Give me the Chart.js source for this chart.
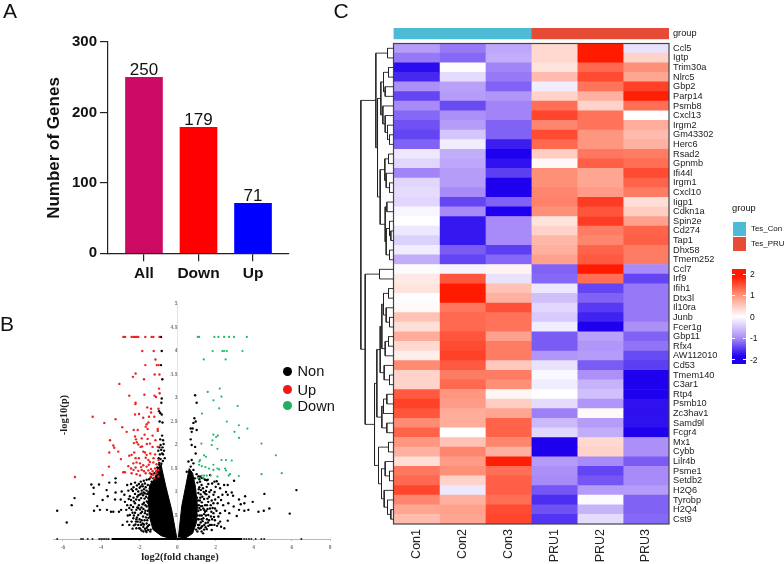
<!DOCTYPE html>
<html><head><meta charset="utf-8">
<script src="https://cdn.jsdelivr.net/npm/chart.js@4"></script>
<style>
html,body{margin:0;padding:0;background:#fff;width:784px;height:564px;overflow:hidden;font-family:"Liberation Sans",Arial,sans-serif}
canvas{position:absolute;left:0;top:0}
.t{position:absolute;white-space:nowrap;color:#111;transform:translate(-50%,-50%);line-height:1}
.l{position:absolute;white-space:nowrap;color:#111;transform:translateY(-50%);line-height:1}
.b{position:absolute}
#cv{filter:blur(.45px)}
</style></head><body>
<canvas id="cv" width="784" height="564"></canvas>
<canvas id="cb" width="784" height="564"></canvas>
<canvas id="ca" width="784" height="564"></canvas>
<canvas id="ch" width="784" height="564"></canvas>
<canvas id="cd" width="784" height="564"></canvas>
<script>
// ---- Panel A
const barCats=['All','Down','Up'];
const barVals=[250,179,71];
const barCols=['#CC0A64','#FF0000','#0000FF'];
// ---- Panel B (log2FC, -log10 p)
const upPts=[[-2.83,4.3],[-2.74,4.3],[-2.4,4.3],[-2.3,4.3],[-2.22,4.3],[-2.13,4.3],[-2.05,4.3],[-1.68,4.3],[-1.35,4.3],[-1.26,4.3],[-.94,4.3],[-1.84,4],[-1.24,4],[-1.15,3.82],[-1.68,3.7],[-1.08,3.7],[-.98,3.7],[-2.19,3.52],[-1.19,3.5],[-.94,3.5],[-2.33,3.45],[-1.75,3.4],[-3.04,3.3],[-.96,3.2],[-.93,3.1],[-2.52,3.05],[-1.73,3.07],[-1.2,3.05],[-1.12,3.02],[-2.19,2.9],[-2.2,2.87],
[-1.58,2.8],[-1.38,2.77],[-.99,2.77],[-1.38,2.69],[-2.22,2.65],[-2.01,2.66],[-1.79,2.58],[-1.49,2.6],[-1.21,2.6],[-4.44,2.6],[-3.24,2.55],[-3.83,2.47],[-1.52,2.48],[-1.61,2.44],[-1.66,2.39],[-1.56,2.34],[-2.89,2.38],[-2.29,2.32],[-2.08,2.32],[-2.66,2.28],[-1.03,2.34],[-1.03,2.3],[-1.3,2.2],[-2.22,2.18],[-1.87,2.14],[-2.17,2.12],[-1.56,2.13],[-3.53,2.1],[-2.13,2.06],[-2.05,2.01],[-1.44,2.03],[-3.36,1.99],[-3.31,1.94],[-1.93,1.96],[-1.3,1.96],[-1.03,1.96],[-3.1,1.86],[-3.57,1.84],[-1.79,1.86],[-1.7,1.84],[-2.26,1.84],[-2.52,1.77],[-2.4,1.79],[-1.61,1.79],[-2.19,1.72],[-1.66,1.73],[-1.52,1.68],[-1.17,1.8],[-.99,1.68],[-2.96,1.7],[-2.31,1.61],[-2.14,1.63],[-1.96,1.61],[-1.79,1.57],[-1.44,1.64],[-1.26,1.63],[-1.09,1.59],[-2.57,1.55],[-2.43,1.5],[-2.19,1.52],[-1.87,1.47],[-1.61,1.54],[-1.38,1.49],[-1.17,1.5],[-.99,1.47],[-3.59,1.54],[-2.84,1.42],[-2.75,1.42],[-2.4,1.4],[-2.14,1.38],[-1.96,1.35],[-1.66,1.4],[-1.44,1.4],[-1.26,1.36],[-1.09,1.4],[-3.92,1.36],[-1.21,1.3],[-1.38,1.33],[-.99,1.33],[-5.37,1.32],[-2.3,1.47],[-2.05,1.45],[-1.75,1.44],[-1.52,1.46],[-1.3,1.44],[-1.12,1.44],[-1.9,1.53],[-1.5,1.58],[-2.02,1.72],[-1.25,1.72],[-1.42,1.82],[-1.85,1.97],[-1.6,2.02],[-1.15,2.1],[-1.72,2.22],[-2.28,2.04]];
const downPts=[[1.07,4.3],[1.14,4.3],[1.94,4.3],[2.15,4.3],[2.45,4.3],[2.71,4.3],[2.97,4.3],[3.64,4.3],[1.85,4],[2.36,4],[2.45,4],[2.59,4],[3.41,4],[1.38,3.82],[2.53,3.82],[1.59,3.13],[2.22,3.2],[2.31,3.03],[1.89,2.95],[3.16,2.83],[2.19,2.78],[1.29,2.67],[2.59,2.5],[3.22,2.42],[3.67,2.35],[2.99,2.28],[1.89,2.22],[2.12,2.2],[2.03,2.17],[3.23,2.15],[1.84,2.1],[4.41,2.03],[1.26,2.03],[1.8,2],[2.1,1.92],[5.16,1.78],[1.4,1.78],[1.5,1.75],[1.19,1.68],[2.31,1.68],[2.55,1.68],[2.85,1.67],[1.15,1.65],[1.14,1.58],[1.89,1.58],[1.28,1.55],[1.47,1.53],[1.66,1.5],[1.89,1.47],[2.1,1.5],[2.19,1.48],[2.5,1.5],[2.55,1.46],[5.47,1.4],[4.41,1.38],[2.76,1.38],[1.28,1.35],[1.4,1.35],[1.54,1.35],[1.75,1.35],[2.1,1.33],[2.69,1.35],[3.22,1.34],[1.07,1.3],[1.35,1.3]];
const nonPts=[[-.86,4.3],[-.82,4],[-.86,3.7],[-.79,3.4],[-.82,2.99],[-.84,2.9],[-.96,2.72],[-.9,2.68],[-.82,2.65],[-.93,2.5],[-.78,2.48],[-.8,2.2],[-.9,2.12],[-.75,2.1],[-.72,2.02],[-.88,2],[-.95,1.95],[-.78,1.95],[-1,1.88],[-.85,1.9],[-.7,1.88],[-.8,1.82],[-.92,1.8],[-.75,1.8],[-.98,1.72],[-.66,1.72],[-.88,1.7],[-.76,1.66],[-.95,1.62],[-.84,1.6],
[.93,3.06],[1.01,2.9],[.89,2.57],[.96,2.5],[.84,2.47],[.7,2.35],[.8,2.35],[.75,2.28],[1.01,2.32],[.7,2.12],[.75,2],[.93,1.96],[.96,1.82],[.75,1.68],[.58,1.65],[.84,1.61],[.7,1.54],[.84,1.47],[.49,1.43],[.66,1.4],[1.01,1.38],[1.19,1.33],[1.36,1.29],[1.54,1.25],[2.06,1.23],
[-6.3,.6],[-5.8,.35],[-5.54,.72],[-5.39,.87],[-4.51,1.16],[-4.39,1.09],[-4.11,1.16],[-4.39,.96],[-4.37,.6],[-4.2,.7],[-4.06,.62],[-3.92,.83],[-3.71,1.04],[-3.65,.91],[-3.57,1.2],[-3.24,1.29],[-3.24,1.2],[-3.24,.99],[-3.27,.84],[-3.69,.62],[-3.48,.58],[-3.36,.58],[-3.06,.58],[-2.95,.62],[-2.87,.3],
[-2.63,1.15],[-2.43,1.17],[-2.22,1.2],[-1.92,1.22],[-1.92,1.12],[-1.7,1.18],[-1.61,1.26],[-2.92,1.01],[-2.78,.94],[-2.57,1.03],[-2.4,1.06],[-2.49,.91],[-2.22,.96],[-2.05,1.01],[-1.87,1.03],[-1.7,.97],[-2.97,.84],[-2.75,.79],[-2.63,.72],[-2.43,.83],[-2.22,.76],[-2,.83],[-1.82,.74],[-2.1,.67],[-1.96,.63],[-2.4,.62],[-2.22,.56],[-2.05,.51],[-2.49,.51],[-2.31,.44],[-2.17,.37],[-2.4,.37],[-2.05,.3],[-2.63,.37],[-1.87,.4],[-1.79,.26],[-2,.23],[-1.61,.33],[-1.53,.19],[-1.7,.55],[-1.61,.69],[-1.53,.87],[-1.44,1.08],[-1.35,1.22],[-1.26,1.29],[-1.12,1.33],
[-2.3,1.1],[-2.12,1.14],[-2.02,1.17],[-1.81,1.12],[-1.75,1.06],[-1.95,.95],[-1.8,.93],[-1.62,1.03],[-1.55,1.15],[-1.48,1.27],[-1.4,1.31],[-1.72,.86],[-1.6,.8],[-1.9,.87],[-2.1,.9],[-2.3,.88],[-2.55,.85],[-2.68,.62],[-2.32,.68],[-2.02,.72],[-1.92,.55],[-1.78,.64],[-1.68,.72],[-1.55,.6],[-1.52,.45],[-1.65,.46],[-1.8,.48],[-1.98,.42],[-2.12,.46],[-2.28,.29],[-2.15,.23],[-1.9,.3],[-1.7,.22],[-1.62,.15],[-1.42,.16],[-1.88,.18],[-1.58,.96],[-1.5,.72],[-1.52,1.0],[-1.46,.95],[-1.45,.62],[-1.48,.3],[-1.4,.2],[-1.35,1.38],[-1.2,1.4],[-1.05,1.52],[-.95,1.58],
[-2.33,1.02],[-2.15,1.06],[-1.98,1.09],[-1.84,1.16],[-1.66,1.1],[-1.76,1.24],[-2.28,.8],[-2.16,.84],[-2.04,.93],[-1.88,.97],[-1.77,.99],[-1.64,.9],[-1.54,.77],[-2.52,.66],[-2.44,.72],[-2.15,.62],[-2.05,.66],[-1.88,.67],[-1.75,.77],[-1.58,.52],[-1.72,.4],[-1.85,.58],[-2.28,.5],[-2.15,.42],[-2.35,.56],[-1.94,.36],[-1.82,.33],[-1.68,.6],[-1.58,.4],[-1.55,.27],[-1.75,.31],[-2.08,.37],[-2.2,.31],[-1.95,.22],[-1.78,.16],[-1.6,.24],[-1.66,.18],[-2.35,.22],[-2.52,.3],[-2.6,.5],
[6.24,1.04],[5.89,.54],[4.56,.96],[4.82,.65],[4.53,.6],[4.25,.58],[3.95,.79],[3.55,.91],[3.51,.76],[3.32,.74],[3.23,.84],[2.97,1.24],[2.85,.99],[2.95,.69],[3.23,.62],[3.51,.6],[3.72,.62],[3.11,.49],[2.64,.39],[2.64,1.15],[2.45,1.15],[2.24,1.08],[2.64,.94],[2.36,.94],[2.67,.76],[2.5,.6],[2.24,.55],[2.15,.48],[2.24,.37],[2.46,.23],[1.94,1.22],[1.59,1.26],
[1.71,1.36],[1.45,1.26],[1.27,1.15],[1.54,1.11],[1.76,1.04],[2.01,1.11],[1.45,.97],[1.66,.9],[1.89,.94],[2.15,.89],[2.29,.83],[1.62,.79],[1.89,.76],[2.11,.76],[1.45,.72],[1.71,.65],[1.97,.65],[1.45,.58],[1.62,.51],[1.89,.55],[1.36,.44],[1.66,.4],[1.97,.4],[1.41,.3],[1.71,.3],[1.94,.3],[2.15,.33],[1.54,.21],[1.8,.19],[2.29,.26],[1.27,.16],[1.36,.65],[1.31,.9],[1.24,1.04],[1.19,1.22],[.92,1.29],[1.1,1.33],[.75,1.36],
[1.05,1.2],[1.15,1.1],[1.22,.95],[1.1,.98],[1.18,.82],[1.28,.78],[1.12,.72],[1.22,.62],[1.1,.6],[1.18,.5],[1.28,.5],[1.12,.42],[1.22,.35],[1.08,.3],[1.16,.22],[1.3,.27],[1.4,.85],[1.38,1.0],[1.52,.95],[1.55,.72],[1.52,.6],[1.55,.42],[1.48,.34],[1.62,.28],[1.82,.42],[1.78,.58],[1.8,.82],[1.95,1.0],[1.98,.84],[2.05,.6],[2.08,.28],[1.35,.12],[1.05,.16],[1.62,1.17],[1.82,1.18],[2.15,1.17],[2.55,1.0],[2.4,.72],[2.72,.55],[2.92,.92],[1.24,.7],[1.03,.88],[1.06,.5],[.98,.2],
[1.12,1.06],[1.2,.88],[1.08,.82],[1.3,.7],[1.15,.66],[1.08,.42],[1.26,.42],[1.15,.3],[1.32,.38],[1.24,.24],[1.1,.24],[1.4,.53],[1.5,.5],[1.58,.64],[1.4,.62],[1.34,1.08],[1.5,1.02],[1.68,1.0],[1.58,.86],[1.75,.72],[1.85,.66],[1.92,.47],[1.76,.48],[1.4,.2],[1.48,.25],[1.6,.35],[1.8,.3],[1.15,1.27],[1.28,1.3]];
const baseXs=[-6.3,-5.05,-4.95,-4.7,-4.45,-4.1,-4,-3.9,-3.8,-3.7,-3.6,3.5,3.62,3.75,3.88,4.1,4.4,4.55,6.5];
const denseBand=[[-3.45,0],[3.4,0]];
const denseLeft=[[-.03,.02],[-.3,.62],[-.6,1.11],[-.8,1.47],[-.85,1.58],[-1.05,1.5],[-1.15,1.3],[-1.45,1.15],[-1.52,.85],[-1.48,.5],[-1.28,.2],[-.85,.07],[-.3,0]];
const denseRight=[[.05,.03],[.23,.7],[.45,1.15],[.57,1.4],[.62,1.5],[.8,1.4],[.95,1.1],[1.05,.7],[1,.35],[.8,.12],[.4,.01]];
const volcXTicks=[-6,-4,-2,0,2,4,6,8];
// ---- Panel C
const heatCols=['Con1','Con2','Con3','PRU1','PRU2','PRU3'];
const genes=['Ccl5','Igtp','Trim30a','Nlrc5','Gbp2','Parp14','Psmb8','Cxcl13','Irgm2','Gm43302','Herc6','Rsad2','Gpnmb','Ifi44l','Irgm1','Cxcl10','Iigp1','Cdkn1a','Spin2e','Cd274','Tap1','Dhx58','Tmem252','Ccl7','Irf9','Ifih1','Dtx3l','Il10ra','Junb','Fcer1g','Gbp11','Rfx4','AW112010','Cd53','Tmem140','C3ar1','Rtp4','Psmb10','Zc3hav1','Samd9l','Fcgr4','Mx1','Cybb','Lilr4b','Psme1','Setdb2','H2Q6','Tyrobp','H2Q4','Cst9'];
const heat=[[-.85,-1.15,-.75,.35,2.2,-.25],[-1.15,-1.3,-.7,.35,2.2,.4],[-2.1,.02,-1.05,.25,1.4,1],[-1.85,-.3,-1.15,.6,1.7,.8],[-.95,-.8,-1.35,-.15,1.3,1.8],[-1.6,-.85,-.9,.4,.7,2.15],[-1,-1.55,-1.05,1.35,.4,1.35],[-1.3,-.95,-1.05,1.75,1.3,0],[-1.5,-.85,-1.35,1.1,1.3,.75],[-1.6,-.5,-1.35,1.7,.95,.6],[-1.35,-.15,-1.95,1.4,.95,.7],[-.2,-.7,-2.2,.45,1.25,1.2],[-.35,-.75,-2.05,.07,1.5,1.35],[-1.05,-.85,-1.65,1,.8,1.7],[-.35,-.85,-2.2,1,.8,1.45],[-.3,-1,-2.2,1.1,.9,1.2],[-.35,-1.6,-1.35,1.15,1.85,.3],[-.08,-1,-2.2,1,1.6,.45],[0,-2,-1,.25,1.85,.85],[-.2,-2,-1,.4,1.2,1.45],[-.4,-2,-1,.65,1.1,1.5],[-.15,-1.4,-1.65,.7,1.45,1.2],[-.7,-1.6,-1.3,.85,1.55,1.2],
[-.03,-.1,.1,-1.35,2.2,-1],[.2,1.6,-.25,-1.3,1.35,-1.6],[.25,2.2,.55,-.2,-1.6,-1.15],[-.02,2.2,.7,-.55,-1.35,-1.15],[.05,1.25,1.65,-.35,-1.7,-1.15],[.55,1.4,1.3,-.45,-1.9,-1.15],[.3,1.4,1.3,-.15,-2.2,-.95],[.75,1.6,.85,-1.4,-.8,-1.35],[.35,1.7,1.2,-1.4,-.9,-1.2],[.15,1.8,1.2,-.9,-.85,-1.55],[1.05,1.55,.5,-.25,-1.4,-1.65],[.4,1.2,1.2,-.07,-.95,-2.2],[.4,1.4,1,-.15,-.65,-2.2],[1.55,.95,.07,0,-.55,-2.2],[1.8,.9,.45,-.3,-.9,-2.05],[1.6,.75,.8,-1.1,.05,-2.05],[1.05,.75,1.45,-.6,-.85,-2.05],[1.45,0,1.45,-.35,-.7,-2.2],[.95,.55,1.1,-2.2,.35,-.95],[.7,1.1,.7,-2.2,.4,-.95],[.3,.9,2.15,-.85,-1,-1.4],[1.25,1,1.35,-.95,-1.6,-1],[1.4,.4,1.5,-1,-1.45,-1],[1.75,-.2,1.5,-1.45,-.85,-.85],[1.1,.7,1.35,-1.8,-.03,-1.35],[.8,.85,1.7,-1.5,-.65,-1.35],[.6,.8,1.75,-1.75,-.3,-1.3]];
// dendrogram: [height, childA, childB]; numbers at leaves are row indexes
const treeTop=[53,[18,0,1],[48,[38,[30,[15,2,3],[25,4,5]],[32,6,[25,7,[18,8,[12,9,10]]]]],[40,[26,[15,11,12],[22,13,[12,14,15]]],[25,[20,16,17],[22,[12,18,[8,19,20]],[12,21,22]]]]]];
const treeBottom=[85,[42,23,24],[57,[50,[40,[35,[30,[15,25,26],[22,27,[12,28,29]]],[25,[15,30,31],32]],[28,33,[12,34,35]]],[35,[30,[20,36,37],38],[20,39,40]]],[45,[15,41,42],[36,[25,43,[12,44,45]],[28,46,[18,47,[8,48,49]]]]]]];
const treeRoot=[98,treeTop,treeBottom];
const groupSpans=[3,3];
const groupNames=['Tes_Con','Tes_PRU'];
const groupColors=['#4DBBD5','#E64B35'];
const colorStops=[[-2.2,[30,0,238]],[-1,[168,138,248]],[0,[255,255,255]],[1,[255,144,120]],[2.2,[255,26,0]]];
const colorTicks=[2,1,0,-1,-2];

const SANS='"Liberation Sans",Arial,sans-serif',SERIF='"Liberation Serif","Times New Roman",serif';
const fit=n=>s=>{if(s.isHorizontal())s.height=n;else s.width=n};
function pad(l,t,r,b){return {padding:{left:l,top:t,right:784-r,bottom:564-b}}}
const base={responsive:false,animation:false,events:[],plugins:{legend:{display:false},tooltip:{enabled:false}}};
function addText(txt,x,y,css,rot){const d=document.createElement('div');d.className='t';d.textContent=txt;d.style.cssText=`left:${x}px;top:${y}px;${css||''}`;if(rot)d.style.transform=`translate(-50%,-50%) rotate(${rot}deg)`;document.body.appendChild(d)}
function addLeft(txt,x,y,css){const d=document.createElement('div');d.className='l';d.textContent=txt;d.style.cssText=`left:${x}px;top:${y}px;${css||''}`;document.body.appendChild(d)}
function addBox(x,y,w,h,css){const d=document.createElement('div');d.className='b';d.style.cssText=`left:${x}px;top:${y}px;width:${w}px;height:${h}px;${css}`;document.body.appendChild(d)}
const pts=a=>a.map(p=>({x:p[0],y:p[1]}));

// Panel A
new Chart(document.getElementById('cb'),{type:'bar',
 data:{datasets:[{data:barVals.map((v,i)=>({x:i,y:v})),backgroundColor:barCols,barThickness:37}]},
 options:{...base,layout:pad(108-60,42,289,253.3+40),
  scales:{
   x:{type:'linear',offset:false,min:-.66,max:2.66,afterFit:fit(40),afterBuildTicks:s=>{s.ticks=barCats.map((c,i)=>({value:i}))},
      grid:{offset:false,drawOnChartArea:false,tickLength:8,color:'#222',lineWidth:1.2},border:{color:'#222',width:1.2},
      ticks:{autoSkip:false,maxRotation:0,padding:3,color:'#111',font:{family:SANS,size:15.5,weight:'bold'},callback:v=>barCats[v]}},
   y:{min:0,max:300,afterFit:fit(60),afterBuildTicks:s=>{s.ticks=[0,100,200,300].map(v=>({value:v}))},
      grid:{drawOnChartArea:false,tickLength:8,color:'#222',lineWidth:1.2},border:{color:'#222',width:1.2},
      ticks:{padding:3,color:'#111',font:{family:SANS,size:15,weight:'bold'}}}}},
 plugins:[{id:'vals',afterDatasetsDraw(c){const x=c.ctx;x.save();x.font='17px '+SANS;x.fillStyle='#111';x.textAlign='center';x.textBaseline='bottom';
   c.getDatasetMeta(0).data.forEach((b,i)=>x.fillText(barVals[i],b.x,b.y+2));x.restore()}}]});

// Panel B
const dot=(a,col,r)=>({data:pts(a),backgroundColor:col,borderWidth:0,pointRadius:r,showLine:false});
const mass=a=>({data:pts(a),showLine:true,fill:'shape',backgroundColor:'#000',borderColor:'#000',borderWidth:1,pointRadius:0,tension:0});
new Chart(document.getElementById('cv'),{type:'scatter',
 data:{datasets:[dot(upPts,'#F02020',1.2),dot(downPts,'#1FB568',1.1),dot(nonPts,'#000',1.2),dot(baseXs.map(x=>[x,0]),'#222',1),
   {data:pts(denseBand),showLine:true,borderColor:'#000',borderWidth:2,pointRadius:0},mass(denseLeft),mass(denseRight)]},
 options:{...base,layout:pad(53,304,330,539+20),clip:false,
  scales:{
   x:{type:'linear',min:-6.52,max:8,afterFit:fit(20),afterBuildTicks:s=>{s.ticks=volcXTicks.map(v=>({value:v}))},
      grid:{drawOnChartArea:false,tickLength:2,color:'#bbb'},border:{color:'#bbb',width:1},
      ticks:{padding:3,maxRotation:0,color:'#777',font:{family:SERIF,size:5.5,weight:'bold'}}},
   y:{min:0,max:5,position:{x:0},afterFit:fit(0),
      grid:{drawOnChartArea:false,tickLength:2,color:'#ccc'},border:{color:'#e4e4e4',width:1},
      ticks:{stepSize:.5,padding:2,color:'#777',font:{family:SERIF,size:5.5,weight:'bold'},callback:v=>v===0?'':String(v)}}}}});

// Panel C colours
function heatColor(v){for(let i=1;i<colorStops.length;i++){const[a,ca]=colorStops[i-1],[b,cb]=colorStops[i];if(v<=b){const t=Math.max(0,(v-a)/(b-a));return `rgb(${ca.map((c,k)=>Math.round(c+(cb[k]-c)*t)).join(',')})`}}return 'rgb(255,26,0)'}
new Chart(document.getElementById('ch'),{type:'bar',
 data:{labels:genes,datasets:heatCols.map((n,c)=>({label:n,data:genes.map(()=>1),backgroundColor:ctx=>heatColor(heat[ctx.dataIndex][c]),borderWidth:0,barPercentage:1,categoryPercentage:1,stack:'s'}))},
 options:{...base,indexAxis:'y',layout:pad(393.5,43.5,669+80,524+40),
  scales:{
   x:{type:'linear',stacked:true,offset:false,min:0,max:6,afterFit:fit(40),afterBuildTicks:s=>{s.ticks=heatCols.map((c,i)=>({value:i+.5}))},
      grid:{display:false,drawTicks:false},border:{display:false},
      ticks:{autoSkip:false,minRotation:90,maxRotation:90,padding:5,color:'#222',font:{family:SANS,size:12.5},callback:v=>heatCols[Math.floor(v)]}},
   y:{stacked:true,position:'right',afterFit:fit(80),grid:{display:false,drawTicks:false},border:{display:false},
      ticks:{autoSkip:false,padding:4,color:'#222',font:{family:SANS,size:9.2}}}}},
 plugins:[{id:'frame',afterDraw(c){const a=c.chartArea,x=c.ctx;x.save();x.strokeStyle='#444';x.lineWidth=1.2;x.strokeRect(a.left,a.top,a.right-a.left,a.bottom-a.top);x.restore()}}]});

// dendrogram built from the tree above
const segs=[];
function walk(n){if(typeof n==='number')return {y:n+.5,h:0};const[h,p,q]=n;const A=walk(p),B=walk(q);
 segs.push({x:A.h,y:A.y},{x:h,y:A.y},{x:h,y:B.y},{x:B.h,y:B.y},{x:null,y:null});return {y:(A.y+B.y)/2,h}}
walk(treeRoot);
new Chart(document.getElementById('cd'),{type:'scatter',
 data:{datasets:[{data:segs,showLine:true,spanGaps:false,borderColor:'#222',borderWidth:.9,pointRadius:0,tension:0}]},
 options:{...base,layout:pad(360.2,43.5,393.5,524),clip:false,
  scales:{x:{display:false,type:'linear',min:0,max:100,reverse:true},y:{display:false,type:'linear',min:0,max:50,reverse:true}}}});

// group bar
new Chart(document.getElementById('ca'),{type:'bar',
 data:{labels:['group'],datasets:groupSpans.map((v,i)=>({data:[v],backgroundColor:groupColors[i],borderWidth:0,barPercentage:1,categoryPercentage:1,stack:'g'}))},
 options:{...base,indexAxis:'y',layout:pad(393.5,28,669,39.3),
  scales:{x:{display:false,stacked:true,min:0,max:6},y:{display:false,stacked:true}}}});

// Text and keys
addText('A',10,10,'font-size:21px');addText('B',7,323,'font-size:21px');addText('C',341,10,'font-size:21px');
addText('Number of Genes',53,147.5,'font-size:17px;font-weight:bold',-90);
addText('log2(fold change)',180,557,`font-family:${SERIF};font-size:10.5px;font-weight:bold;color:#222`);
addText('-log10(p)',64,415,`font-family:${SERIF};font-size:10.5px;font-weight:bold;color:#222`,-90);
[['Non','#000',371],['Up','#F01818',389.5],['Down','#1CB060',405.5]].forEach(r=>{
 addBox(283,r[2]-4.5,9,9,`border-radius:50%;background:${r[1]}`);addLeft(r[0],297.5,r[2],'font-size:14.6px')});
addLeft('group',673,33.5,'font-size:9.2px');
addLeft('group',732,209,'font-size:9.3px');
groupNames.forEach((n,i)=>{const y=[221.7,236.7][i];addBox(732.7,y,13.3,14.3,`background:${groupColors[i]}`);addLeft(n,751,y+7.2,'font-size:7.9px')});
addBox(731.5,269.3,14.5,94.7,'background:linear-gradient(to bottom,#ff1a00 0%,#ff1a00 8%,#ff9078 27%,#ffffff 50%,#a88af8 73%,#1e00ee 92%,#1e00ee 100%)');
colorTicks.forEach(v=>{const y=316.7-v*21.4;addBox(731.5,y-.4,3,.8,'background:#fff');addBox(743,y-.4,3,.8,'background:#fff');addLeft(String(v),750,y,'font-size:8.5px')});
</script>
</body></html>
